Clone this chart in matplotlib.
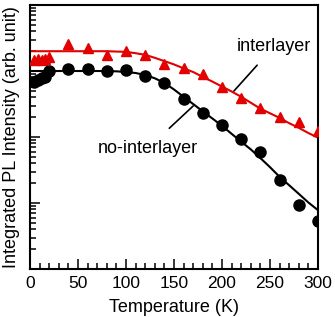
import matplotlib
matplotlib.use('Agg')
import matplotlib.pyplot as plt
from matplotlib.ticker import MultipleLocator, LogLocator, NullFormatter

plt.rcParams['font.family'] = ['Liberation Sans', 'DejaVu Sans']

temp_pts = [4, 8, 12, 16, 20, 40, 60, 80, 100, 120, 140, 160, 180, 200, 220, 240, 260, 280, 300]
inter_pts = [1470, 1520, 1470, 1520, 1630, 2560, 2230, 1750, 2010, 1750, 1280,
             1100, 890, 580, 385, 272, 199, 171, 124]
nointer_pts = [681, 731, 783, 811, 1000, 1072, 1072, 1000, 1035, 839, 658,
               377, 231, 152, 93, 59, 22.3, 9.3, 5.3]

# fitted curves, read every 10 K
temp_fit = list(range(0, 301, 10))
inter_fit = [1995, 1995, 1995, 1995, 1995, 1995, 1995, 1995, 1995, 1972, 1950,
             1862, 1758, 1585, 1413, 1259, 1096, 966, 813, 692, 582,
             490, 407, 331, 269, 229, 195, 162, 138, 115, 98]
nointer_fit = [1000, 1000, 1000, 1000, 1000, 1000, 1000, 1000, 1000, 989, 966,
               933, 871, 776, 661, 525, 407, 316, 245, 191, 148,
               112, 85, 65, 48, 35, 25, 18.6, 13.8, 10.2, 7.8]

RED = '#e20000'

fig = plt.figure(figsize=(3.35, 3.17), dpi=100)
ax = fig.add_axes([0.0896, 0.1514, 0.8594, 0.8328])

ax.plot(temp_fit, inter_fit, color=RED, lw=1.5, zorder=2)
ax.plot(temp_fit, nointer_fit, color='black', lw=1.5, zorder=2)
ax.plot(temp_pts, inter_pts, ls='none', marker='^', ms=7, color=RED, mec=RED, zorder=3)
ax.plot(temp_pts, nointer_pts, ls='none', marker='o', ms=8, color='black', zorder=3)

ax.set_yscale('log')
ax.set_xlim(0, 300)
ax.set_ylim(1, 1e4)

ax.xaxis.set_major_locator(MultipleLocator(50))
ax.xaxis.set_minor_locator(MultipleLocator(10))
ax.yaxis.set_major_locator(LogLocator(base=10, numticks=10))
ax.yaxis.set_minor_locator(LogLocator(base=10, subs=range(2, 10), numticks=20))
ax.yaxis.set_major_formatter(NullFormatter())
ax.yaxis.set_minor_formatter(NullFormatter())

ax.tick_params(which='both', direction='in', top=False, right=False, width=1.1)
ax.tick_params(which='major', length=7)
ax.tick_params(which='minor', length=4)
ax.tick_params(axis='x', labelsize=12.5, pad=5)
for s in ax.spines.values():
    s.set_linewidth(1.5)

ax.set_xlabel('Temperature (K)', fontsize=13, labelpad=6)
ax.set_ylabel('Integrated PL Intensity (arb. unit)', fontsize=13, labelpad=4)

ax.annotate('interlayer', xy=(212.5, 498), xytext=(254, 2335),
            fontsize=13, ha='center', va='center',
            arrowprops=dict(arrowstyle='-', color='black', lw=1.2,
                            shrinkA=7, shrinkB=0))
ax.annotate('no-interlayer', xy=(170, 295), xytext=(123, 68),
            fontsize=13, ha='center', va='center',
            arrowprops=dict(arrowstyle='-', color='black', lw=1.2,
                            shrinkA=9, shrinkB=0))

fig.savefig('out.png', dpi=100)
